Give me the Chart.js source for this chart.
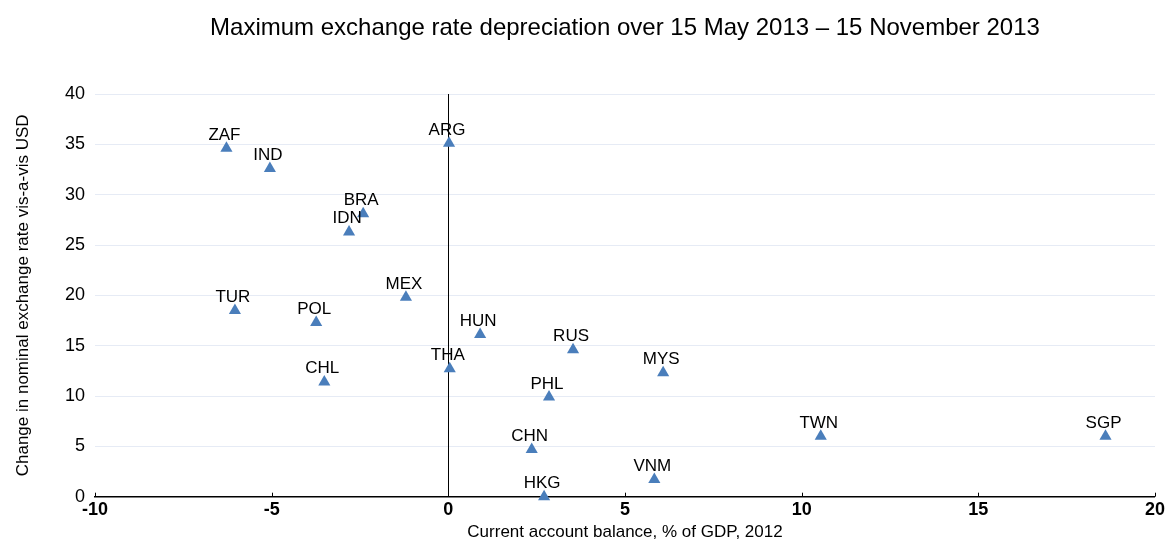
<!DOCTYPE html>
<html>
<head>
<meta charset="utf-8">
<script src="https://cdn.jsdelivr.net/npm/chart.js@4"></script>
<style>
  body{margin:0;background:#fff;}
  #wrap{width:1168px;height:550px;}
</style>
</head>
<body>
<div id="wrap"><canvas id="chart"></canvas></div>
<script>
const countries=['ZAF','IND','BRA','IDN','ARG','TUR','POL','MEX','CHL','THA','HUN','RUS','MYS','PHL','CHN','VNM','HKG','TWN','SGP'];
const currentAccount=[-6.28,-5.05,-2.41,-2.81,0.02,-6.04,-3.74,-1.2,-3.51,0.04,0.9,3.53,6.08,2.85,2.36,5.83,2.71,10.54,18.6];
const fxChange=[34.6,32.6,28.1,26.3,35.1,18.5,17.3,19.8,11.4,12.7,16.1,14.6,12.3,9.9,4.7,1.7,0,6.0,6.0];
const xTicks=[-10,-5,0,5,10,15,20];
const yTicks=[0,5,10,15,20,25,30,35,40];

const fontFamily='"Liberation Sans", Arial, sans-serif';
Chart.defaults.font.family=fontFamily;
Chart.defaults.color='#000';

// vertical line at x = 0, under the markers
const zeroLine={
  id:'zeroLine',
  beforeDatasetsDraw(chart){
    const ctx=chart.ctx;
    const xs=chart.scales.x;
    const area=chart.chartArea;
    const px=Math.round(xs.getPixelForValue(0))+0.5;
    ctx.save();
    ctx.strokeStyle='#000';
    ctx.lineWidth=1;
    ctx.beginPath();
    ctx.moveTo(px,area.top);
    ctx.lineTo(px,area.bottom);
    ctx.stroke();
    ctx.restore();
  }
};

// country codes above the markers + the little tick marks on the x axis
const pointLabels={
  id:'pointLabels',
  afterDatasetsDraw(chart){
    const ctx=chart.ctx;
    const meta=chart.getDatasetMeta(0);
    ctx.save();
    ctx.font='17px '+fontFamily;
    ctx.fillStyle='#000';
    ctx.textAlign='center';
    ctx.textBaseline='alphabetic';
    meta.data.forEach((pt,i)=>{
      ctx.fillText(countries[i],pt.x-2,pt.y-8.5);
    });
    const xs=chart.scales.x;
    ctx.strokeStyle='#000';
    ctx.lineWidth=1;
    xs.ticks.forEach(t=>{
      const px=Math.round(xs.getPixelForValue(t.value))+0.5;
      ctx.beginPath();
      ctx.moveTo(px,xs.top);
      ctx.lineTo(px,xs.top-4);
      ctx.stroke();
    });
    ctx.restore();
  }
};

new Chart(document.getElementById('chart'),{
  type:'scatter',
  data:{
    datasets:[{
      data:countries.map((c,i)=>({x:currentAccount[i],y:fxChange[i]})),
      pointStyle:'triangle',
      pointRadius:7,
      pointHoverRadius:7,
      backgroundColor:'#4a7ebb',
      borderColor:'#4a7ebb',
      borderWidth:0,
      clip:false
    }]
  },
  options:{
    responsive:true,
    maintainAspectRatio:false,
    animation:false,
    layout:{padding:{left:13,right:11,top:0,bottom:7}},
    plugins:{
      legend:{display:false},
      tooltip:{enabled:false},
      title:{
        display:true,
        fullSize:false,
        text:'Maximum exchange rate depreciation over 15 May 2013 – 15 November 2013',
        color:'#000',
        font:{size:24,weight:'normal'},
        padding:{top:14,bottom:51.2}
      }
    },
    scales:{
      x:{
        type:'linear',
        min:-10,max:20,
        afterBuildTicks:s=>{s.ticks=xTicks.map(v=>({value:v}));},
        afterFit:s=>{s.height=46.3;},
        grid:{display:false,drawTicks:false},
        border:{display:true,color:'#000',width:1.5},
        ticks:{padding:3,color:'#000',font:{size:18,weight:'bold'}},
        title:{display:true,text:'Current account balance, % of GDP, 2012',color:'#000',font:{size:17},padding:0}
      },
      y:{
        min:0,max:40,
        afterBuildTicks:s=>{s.ticks=yTicks.map(v=>({value:v}));},
        afterFit:s=>{s.width=82;},
        grid:{drawTicks:false,color:'#e6ebf5',lineWidth:1},
        border:{display:false},
        ticks:{padding:10,color:'#000',font:{size:18}},
        title:{display:true,text:'Change in nominal exchange rate vis-a-vis USD',color:'#000',font:{size:17},padding:0}
      }
    }
  },
  plugins:[zeroLine,pointLabels]
});
</script>
</body>
</html>
